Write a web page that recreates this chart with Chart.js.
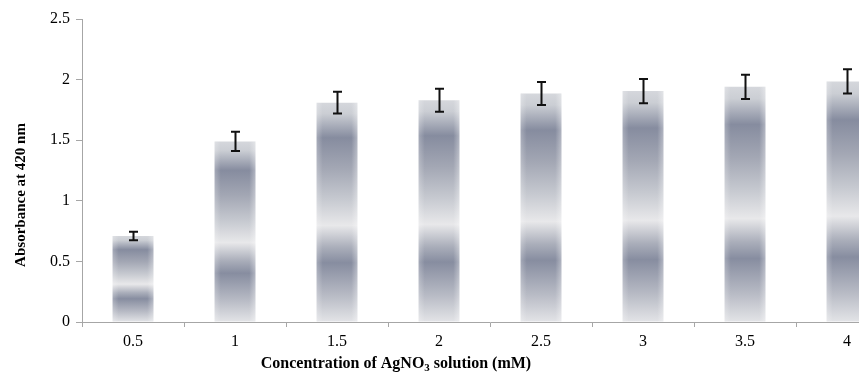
<!DOCTYPE html>
<html>
<head>
<meta charset="utf-8">
<script src="https://cdn.jsdelivr.net/npm/chart.js@4.4.0/dist/chart.umd.min.js"></script>
<style>
  html, body { margin: 0; padding: 0; background: #fff; overflow: hidden; width: 859px; height: 377px; }
  #wrap { width: 910px; height: 377px; }
</style>
</head>
<body>
<div id="wrap"><canvas id="chart" width="910" height="377"></canvas></div>
<script>
// concentration of AgNO3 (mM)
const concentrations = ["0.5", "1", "1.5", "2", "2.5", "3", "3.5", "4"];
// absorbance at 420 nm
const absorbance = [0.71, 1.49, 1.81, 1.83, 1.885, 1.905, 1.94, 1.985];
const errors = [0.035, 0.08, 0.09, 0.095, 0.095, 0.1, 0.1, 0.1];
const yTicks = [0, 0.5, 1, 1.5, 2, 2.5];

const SERIF = "Liberation Serif, Times New Roman, serif";

function barGradient(context) {
  const chart = context.chart;
  if (!chart.chartArea) return "#9aa0ae";
  const yScale = chart.scales.y;
  const top = yScale.getPixelForValue(context.raw);
  const base = yScale.getPixelForValue(0);
  const g = chart.ctx.createLinearGradient(0, top, 0, base);
  g.addColorStop(0.00, "#d5d7dc");
  g.addColorStop(0.05, "#cbced4");
  g.addColorStop(0.16, "#868c9f");
  g.addColorStop(0.30, "#a3a7b4");
  g.addColorStop(0.44, "#c6c9d0");
  g.addColorStop(0.56, "#e8e8ea");
  g.addColorStop(0.66, "#aaaeba");
  g.addColorStop(0.73, "#878da0");
  g.addColorStop(0.88, "#b8bbc5");
  g.addColorStop(1.00, "#e3e4e7");
  return g;
}

const barEdges = {
  id: "barEdges",
  afterDatasetsDraw(chart) {
    const ctx = chart.ctx;
    const area = chart.chartArea;
    const meta = chart.getDatasetMeta(0);
    ctx.save();
    ctx.beginPath();
    ctx.rect(area.left, area.top, area.right - area.left, area.bottom - area.top);
    ctx.clip();
    meta.data.forEach((bar) => {
      const left = bar.x - bar.width / 2;
      const g = ctx.createLinearGradient(left, 0, left + bar.width, 0);
      g.addColorStop(0, "rgba(255,255,255,0.25)");
      g.addColorStop(0.15, "rgba(255,255,255,0)");
      g.addColorStop(0.85, "rgba(255,255,255,0)");
      g.addColorStop(1, "rgba(255,255,255,0.35)");
      ctx.fillStyle = g;
      ctx.fillRect(left, bar.y, bar.width, bar.base - bar.y);
    });
    ctx.restore();
  }
};

const errorBars = {
  id: "errorBars",
  afterDatasetsDraw(chart) {
    const ctx = chart.ctx;
    const yScale = chart.scales.y;
    const meta = chart.getDatasetMeta(0);
    ctx.save();
    ctx.strokeStyle = "#111";
    ctx.lineWidth = 2;
    meta.data.forEach((bar, i) => {
      const x = Math.round(bar.x) + 0.5;
      const hi = yScale.getPixelForValue(absorbance[i] + errors[i]);
      const lo = yScale.getPixelForValue(absorbance[i] - errors[i]);
      ctx.beginPath();
      ctx.moveTo(x, hi);
      ctx.lineTo(x, lo);
      ctx.moveTo(x - 4.5, hi);
      ctx.lineTo(x + 4.5, hi);
      ctx.moveTo(x - 4.5, lo);
      ctx.lineTo(x + 4.5, lo);
      ctx.stroke();
    });
    ctx.restore();
  }
};

const axisTitles = {
  id: "axisTitles",
  afterDraw(chart) {
    const ctx = chart.ctx;
    ctx.save();
    ctx.fillStyle = "#000";
    ctx.textBaseline = "middle";

    // y title
    ctx.save();
    ctx.translate(21, 195);
    ctx.rotate(-Math.PI / 2);
    ctx.font = "bold 15px " + SERIF;
    ctx.textAlign = "center";
    ctx.fillText("Absorbance at 420 nm", 0, 0);
    ctx.restore();

    // x title with subscript
    const big = "bold 16px " + SERIF;
    const small = "bold 11px " + SERIF;
    const parts = [
      { t: "Concentration of AgNO", f: big, dy: 0 },
      { t: "3", f: small, dy: 4 },
      { t: " solution (mM)", f: big, dy: 0 }
    ];
    let total = 0;
    parts.forEach((p) => { ctx.font = p.f; p.w = ctx.measureText(p.t).width; total += p.w; });
    let x = 396 - total / 2;
    ctx.textAlign = "left";
    parts.forEach((p) => {
      ctx.font = p.f;
      ctx.fillText(p.t, x, 364 + p.dy);
      x += p.w;
    });
    ctx.restore();
  }
};

new Chart(document.getElementById("chart"), {
  type: "bar",
  data: {
    labels: concentrations,
    datasets: [{
      label: "Absorbance",
      data: absorbance,
      backgroundColor: barGradient,
      borderWidth: 0,
      barPercentage: 0.4,
      categoryPercentage: 1.0
    }]
  },
  options: {
    responsive: false,
    devicePixelRatio: 1,
    animation: false,
    layout: { padding: { left: 0, right: 12, top: 19, bottom: 0 } },
    plugins: {
      legend: { display: false },
      tooltip: { enabled: false }
    },
    scales: {
      x: {
        grid: {
          offset: true,
          drawOnChartArea: false,
          drawTicks: true,
          tickLength: 5,
          color: "#a6a6a6"
        },
        border: { color: "#a6a6a6", width: 1 },
        ticks: {
          color: "#000",
          font: { family: SERIF, size: 16 },
          padding: 5,
          maxRotation: 0
        },
        afterFit(scale) { scale.height = 55; }
      },
      y: {
        min: 0,
        max: 2.5,
        afterBuildTicks(scale) { scale.ticks = yTicks.map((v) => ({ value: v })); },
        grid: {
          drawOnChartArea: false,
          drawTicks: true,
          tickLength: 6,
          color: "#a6a6a6"
        },
        border: { color: "#a6a6a6", width: 1 },
        ticks: {
          color: "#000",
          font: { family: SERIF, size: 16 },
          padding: 6,
          callback: (value) => String(value)
        },
        afterFit(scale) { scale.width = 82; }
      }
    }
  },
  plugins: [barEdges, errorBars, axisTitles]
});
</script>
</body>
</html>
